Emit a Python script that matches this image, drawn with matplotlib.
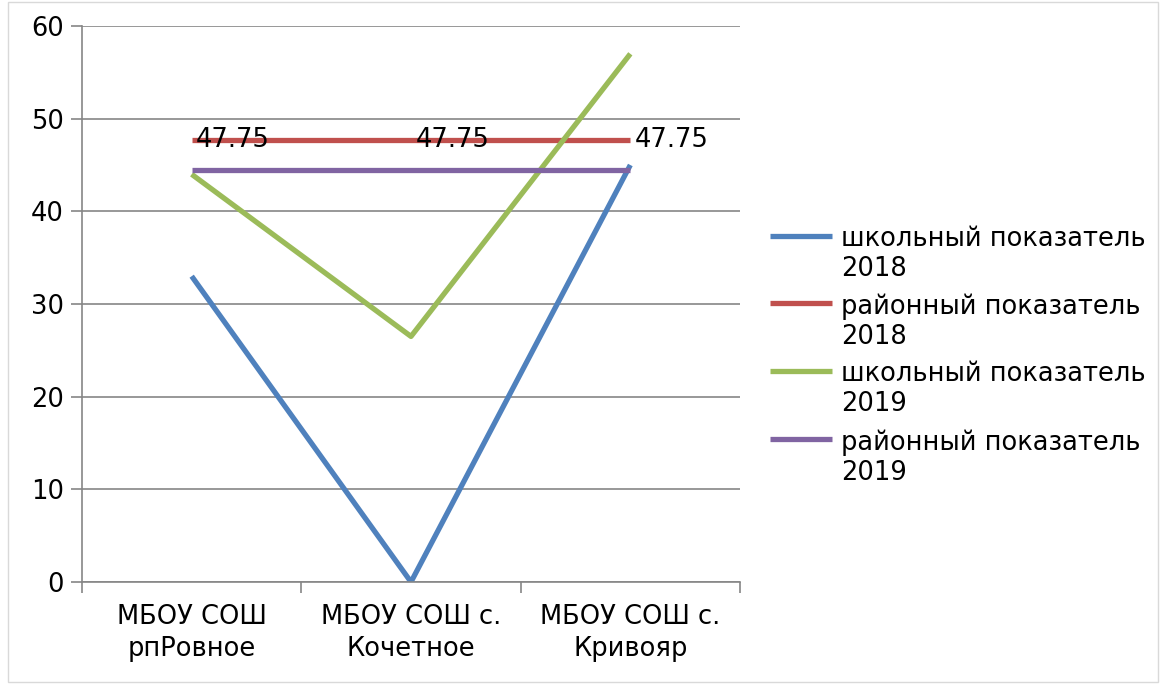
import matplotlib
matplotlib.use("Agg")
import numpy as np
import matplotlib.pyplot as plt
from matplotlib.patches import Rectangle
from matplotlib.legend_handler import HandlerLine2D

# %% data
schools = ["МБОУ СОШ\nрпРовное", "МБОУ СОШ с.\nКочетное", "МБОУ СОШ с.\nКривояр"]
school2018 = [33, 0, 45]
district2018 = [47.75, 47.75, 47.75]
school2019 = [44, 26.5, 57]
district2019 = [44.5, 44.5, 44.5]
names = ["школьный показатель\n2018", "районный показатель\n2018",
         "школьный показатель\n2019", "районный показатель\n2019"]
colors = ["#4f81bd", "#c0504d", "#9bbb59", "#8064a2"]
yticks = [0, 10, 20, 30, 40, 50, 60]

fs = 18.5


class TopLine(HandlerLine2D):
    # put the legend line next to the first text row, like in office charts
    def create_artists(self, legend, orig_handle, xdescent, ydescent,
                       width, height, fontsize, trans):
        arts = super().create_artists(legend, orig_handle, xdescent, ydescent,
                                      width, height, fontsize, trans)
        for a in arts:
            a.set_ydata(np.asarray(a.get_ydata()) + 0.75 * fontsize)
        return arts


# %% plot
plt.rcParams["font.family"] = "DejaVu Sans"
fig = plt.figure(figsize=(11.61, 6.84), dpi=100)
ax = fig.add_axes([82 / 1161, 1 - 582 / 684, 658 / 1161, 556 / 684])

# outer frame of the chart
fig.patches.append(Rectangle((8 / 1161, 2 / 684), 1150 / 1161, 680 / 684,
                             transform=fig.transFigure, fill=False,
                             edgecolor="#d9d9d9", linewidth=1))

x = list(range(len(schools)))
for vals, name, c in zip([school2018, district2018, school2019, district2019], names, colors):
    ax.plot(x, vals, color=c, linewidth=3.8, label=name, solid_capstyle="butt")

for xi, v in zip(x, district2018):
    ax.text(xi + 0.02, v, "{:.2f}".format(v), fontsize=fs, va="center", ha="left")

ax.set_xlim(-0.5, 2.5)
ax.set_ylim(0, 60)
ax.set_yticks(yticks)
ax.set_xticks(x)
ax.set_xticklabels(schools, fontsize=fs, linespacing=1.3)
ax.tick_params(axis="x", length=0, pad=16)
ax.tick_params(axis="y", labelsize=fs, length=8, color="#868686", width=1.2, pad=5)
ax.set_xticks([-0.5, 0.5, 1.5, 2.5], minor=True)
ax.tick_params(axis="x", which="minor", length=8, color="#868686", width=1.2)
ax.grid(axis="y", color="#868686", linewidth=1.2)
ax.set_axisbelow(True)
for side in ["top", "right"]:
    ax.spines[side].set_visible(False)
for side in ["left", "bottom"]:
    ax.spines[side].set_color("#868686")
    ax.spines[side].set_linewidth(1.2)

ax.legend(loc="center left", bbox_to_anchor=(1.046, 0.407), frameon=False,
          fontsize=fs, handlelength=2.4, labelspacing=0.45, handletextpad=0.35,
          borderaxespad=0, borderpad=0, handler_map={plt.Line2D: TopLine()})

fig.savefig("out.png", dpi=100)
